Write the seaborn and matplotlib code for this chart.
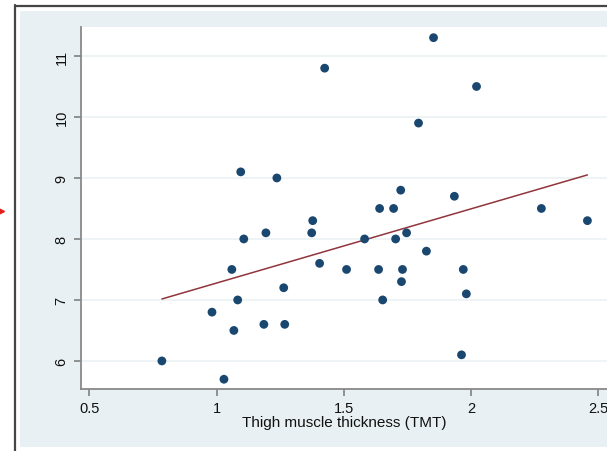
import matplotlib
matplotlib.use("Agg")
import matplotlib.pyplot as plt
from matplotlib.patches import Rectangle
from matplotlib.lines import Line2D
import numpy as np
import pandas as pd
import seaborn as sns

# Thigh muscle thickness (TMT) and outcome for each subject
tmt = [0.785, 1.029, 0.982, 1.068, 1.083, 1.060, 1.107, 1.095, 1.194, 1.186,
       1.237, 1.264, 1.268, 1.378, 1.374, 1.405, 1.425, 1.511, 1.582, 1.641,
       1.637, 1.653, 1.696, 1.704, 1.724, 1.731, 1.727, 1.747, 1.794, 1.825,
       1.853, 1.935, 1.970, 1.963, 1.982, 2.022, 2.277, 2.458]
outcome = [6.0, 5.7, 6.8, 6.5, 7.0, 7.5, 8.0, 9.1, 8.1, 6.6,
           9.0, 7.2, 6.6, 8.3, 8.1, 7.6, 10.8, 7.5, 8.0, 8.5,
           7.5, 7.0, 8.5, 8.0, 8.8, 7.5, 7.3, 8.1, 9.9, 7.8,
           11.3, 8.7, 7.5, 6.1, 7.1, 10.5, 8.5, 8.3]

x_ticks = [0.5, 1, 1.5, 2, 2.5]
x_tick_labels = ["0.5", "1", "1.5", "2", "2.5"]
y_ticks = [6, 7, 8, 9, 10, 11]
x_label = "Thigh muscle thickness (TMT)"

df = pd.DataFrame({"tmt": tmt, "outcome": outcome})

sns.set_theme(style="white")
plt.rcParams["font.family"] = ["Liberation Sans", "DejaVu Sans"]

W, H = 607, 452
fig = plt.figure(figsize=(W / 100, H / 100), dpi=100, facecolor="white")

# graph region background and frame
fig.add_artist(Rectangle((20 / W, 1 - 448 / H), 1 - 20 / W, (448 - 12) / H,
                         transform=fig.transFigure, facecolor="#e8f0f3",
                         edgecolor="none", zorder=0))
fig.add_artist(Line2D([15 / W, 15 / W], [0, 1 - 6 / H], transform=fig.transFigure,
                      color="#454545", lw=1.6, zorder=1))
fig.add_artist(Line2D([15 / W, 1], [1 - 6.5 / H, 1 - 6.5 / H], transform=fig.transFigure,
                      color="#454545", lw=1.6, zorder=1))
fig.add_artist(Line2D([1 / W], [1 - 212 / H], transform=fig.transFigure,
                      marker=">", color="#e0201b", markersize=4, lw=0, zorder=1))

ax_l, ax_b = 81 / W, 1 - 390 / H
ax = fig.add_axes([ax_l, ax_b, 1 - ax_l, (390 - 28) / H])
ax.set_facecolor("white")

for yt in y_ticks:
    ax.axhline(yt, color="#eef4f5", lw=1.4, zorder=0)

sns.regplot(data=df, x="tmt", y="outcome", ax=ax, scatter=False, ci=None,
            line_kws={"color": "#90353b", "lw": 1.1, "zorder": 2})
sns.scatterplot(data=df, x="tmt", y="outcome", ax=ax, color="#1a476f",
                s=40, edgecolor="none", zorder=3)

ax.set_xlim(0.467, 2.535)
ax.set_ylim(5.54, 11.475)
ax.set_xticks(x_ticks)
ax.set_xticklabels(x_tick_labels)
ax.set_yticks(y_ticks)
ax.set_yticklabels([str(v) for v in y_ticks], rotation=90, va="center")
ax.set_xlabel(x_label, fontsize=11, color="#111111", labelpad=0)
ax.set_ylabel("")

for side in ("top", "right"):
    ax.spines[side].set_visible(False)
for side in ("left", "bottom"):
    ax.spines[side].set_color("#888888")
    ax.spines[side].set_linewidth(1.3)
ax.tick_params(axis="both", which="major", length=5, width=1.1, color="#777777",
               labelsize=10.5, labelcolor="#111111", pad=4, direction="out",
               bottom=True, left=True)

fig.savefig("out.png", dpi=100, facecolor="white")
